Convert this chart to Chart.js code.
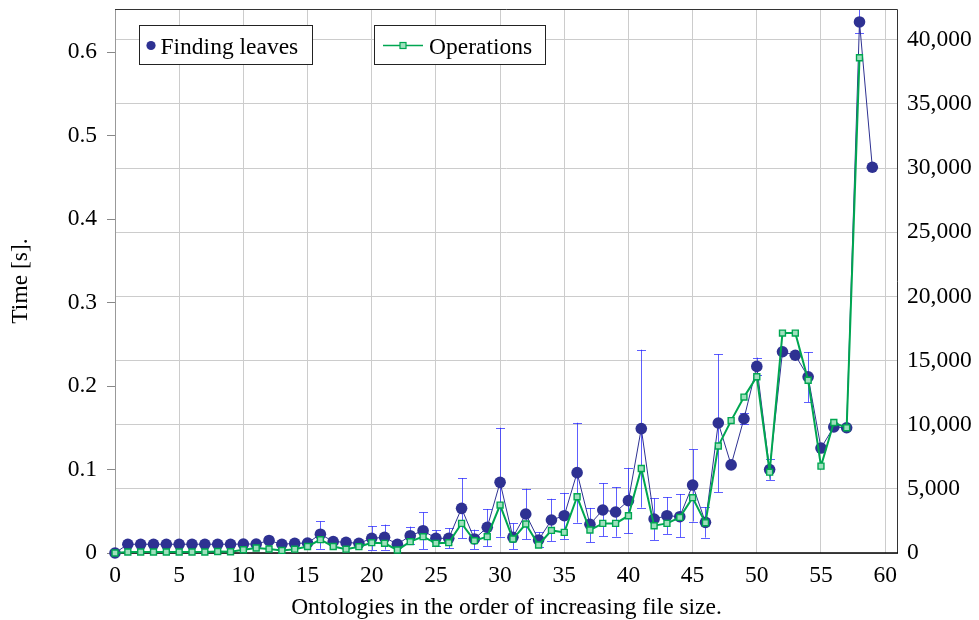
<!DOCTYPE html>
<html>
<head>
<meta charset="utf-8">
<script src="https://cdn.jsdelivr.net/npm/chart.js@4.4.0/dist/chart.umd.min.js"></script>
<style>
  html, body { margin: 0; padding: 0; background: #ffffff; }
  #wrap { width: 979px; height: 620px; }
</style>
</head>
<body>
<div id="wrap"><canvas id="c" width="979" height="620"></canvas></div>
<script>
// Axis ticks
const xTicks = [0, 5, 10, 15, 20, 25, 30, 35, 40, 45, 50, 55, 60];
const timeTicks = [0, 0.1, 0.2, 0.3, 0.4, 0.5, 0.6];
const opTicks = [0, 5000, 10000, 15000, 20000, 25000, 30000, 35000, 40000];

// Finding leaves: mean time [s] per ontology, with error-bar bounds (null = bar hidden under marker)
const leafIdx = [0, 1, 2, 3, 4, 5, 6, 7, 8, 9, 10, 11, 12, 13, 14, 15, 16, 17, 18, 19,
  20, 21, 22, 23, 24, 25, 26, 27, 28, 29, 30, 31, 32, 33, 34, 35, 36, 37, 38, 39,
  40, 41, 42, 43, 44, 45, 46, 47, 48, 49, 50, 51, 52, 53, 54, 55, 56, 57, 58, 59];
const leafTime = [0.0, 0.0105, 0.0105, 0.0105, 0.0105, 0.0105, 0.0105, 0.0105, 0.0105, 0.0105,
  0.0107, 0.0107, 0.015, 0.0105, 0.0115, 0.012, 0.0225, 0.0138, 0.0127, 0.0116,
  0.0176, 0.0188, 0.0104, 0.0207, 0.0267, 0.0176, 0.0176, 0.0535, 0.0168, 0.0308,
  0.0846, 0.0188, 0.0467, 0.0156, 0.0395, 0.0447, 0.0962, 0.0343, 0.0515, 0.0491,
  0.0627, 0.149, 0.0407, 0.0447, 0.0435, 0.0814, 0.0367, 0.1557, 0.1055, 0.1608,
  0.2235, 0.0999, 0.241, 0.2368, 0.211, 0.1257, 0.151, 0.150, 0.636, 0.462];
const leafLow = [null, null, null, null, null, null, null, null, null, null,
  null, null, null, null, null, null, 0.005, null, null, null,
  0.0036, 0.004, null, 0.011, 0.0048, 0.008, 0.0056, 0.0176, 0.0048, 0.0084,
  0.0196, 0.0048, 0.0164, 0.0068, 0.0144, 0.017, 0.0363, 0.0128, 0.020, 0.0196,
  0.0236, 0.0543, 0.0156, 0.0228, 0.0188, 0.0377, 0.0184, 0.073, null, 0.154,
  0.2127, 0.0875, null, null, 0.1806, null, null, null, 0.623, null];
const leafHigh = [null, null, null, null, null, null, null, null, null, null,
  null, null, null, null, null, null, 0.0378, null, null, null,
  0.032, 0.034, null, 0.0316, 0.0487, 0.027, 0.0296, 0.0898, 0.028, 0.0527,
  0.150, 0.0355, 0.077, 0.0248, 0.065, 0.072, 0.156, 0.054, 0.0835, 0.0787,
  0.102, 0.2435, 0.0655, 0.067, 0.0707, 0.124, 0.055, 0.238, null, 0.168,
  0.234, 0.112, null, null, 0.2406, null, null, null, 0.67, null];

// Operations per ontology (right axis)
const opIdx = [0, 1, 2, 3, 4, 5, 6, 7, 8, 9, 10, 11, 12, 13, 14, 15, 16, 17, 18, 19,
  20, 21, 22, 23, 24, 25, 26, 27, 28, 29, 30, 31, 32, 33, 34, 35, 36, 37, 38, 39,
  40, 41, 42, 43, 44, 45, 46, 47, 48, 49, 50, 51, 52, 53, 54, 55, 56, 57, 58];
const opCount = [0, 80, 80, 80, 80, 80, 80, 80, 120, 100,
  250, 390, 310, 200, 300, 510, 1037, 510, 300, 493,
  804, 752, 233, 882, 1271, 752, 804, 2308, 960, 1271,
  3735, 1089, 2257, 622, 1760, 1608, 4383, 1790, 2308, 2308,
  2905, 6588, 2127, 2308, 2775, 4310, 2350, 8340, 10320, 12151,
  13740, 6299, 17140, 17140, 13461, 6772, 10173, 9755, 38600];

const NAVY = '#2e3192';
const GREEN = '#00a651';
const GREEN_FILL = '#9fe0bd';
const ERR = 'rgba(40, 40, 255, 0.75)';
const GRID = '#cccccc';
const FONT = "'Liberation Serif', 'Times New Roman', serif";
const FS = 23.5;

Chart.defaults.font.family = FONT;
Chart.defaults.font.size = FS;
Chart.defaults.color = '#000000';

const errorBars = {
  id: 'errorBars',
  beforeDatasetsDraw(chart) {
    const { ctx, chartArea } = chart;
    const xs = chart.scales.x, ys = chart.scales.y;
    ctx.save();
    ctx.beginPath();
    ctx.rect(chartArea.left, chartArea.top, chartArea.right - chartArea.left, chartArea.bottom - chartArea.top);
    ctx.clip();
    ctx.strokeStyle = ERR;
    ctx.lineWidth = 1;
    for (let i = 0; i < leafIdx.length; i++) {
      if (leafLow[i] === null || leafHigh[i] === null) continue;
      const px = Math.round(xs.getPixelForValue(leafIdx[i])) + 0.5;
      const y1 = ys.getPixelForValue(leafLow[i]);
      const y2 = ys.getPixelForValue(leafHigh[i]);
      ctx.beginPath();
      ctx.moveTo(px, y1); ctx.lineTo(px, y2);
      ctx.moveTo(px - 4.5, Math.round(y1) + 0.5); ctx.lineTo(px + 4.5, Math.round(y1) + 0.5);
      ctx.moveTo(px - 4.5, Math.round(y2) + 0.5); ctx.lineTo(px + 4.5, Math.round(y2) + 0.5);
      ctx.stroke();
    }
    ctx.restore();
  }
};

const frame = {
  id: 'frame',
  beforeDatasetsDraw(chart) {
    const { ctx, chartArea: a } = chart;
    ctx.save();
    ctx.lineWidth = 1;
    ctx.strokeStyle = '#999999';
    ctx.beginPath();
    ctx.moveTo(a.left + 0.5, a.top); ctx.lineTo(a.left + 0.5, a.bottom);
    ctx.stroke();
    ctx.strokeStyle = '#333333';
    ctx.beginPath();
    ctx.moveTo(a.left, a.top + 0.5); ctx.lineTo(a.right - 0.5, a.top + 0.5); ctx.lineTo(a.right - 0.5, a.bottom);
    ctx.stroke();
    ctx.strokeStyle = '#000000';
    ctx.lineWidth = 1.6;
    ctx.beginPath();
    ctx.moveTo(a.left, a.bottom); ctx.lineTo(a.right, a.bottom);
    ctx.stroke();
    ctx.restore();
  }
};

const legendBoxes = {
  id: 'legendBoxes',
  afterDraw(chart) {
    const { ctx } = chart;
    const dsLeaf = chart.data.datasets[0];
    const dsOp = chart.data.datasets[1];
    ctx.save();
    ctx.font = FS + 'px ' + FONT;
    ctx.textBaseline = 'alphabetic';
    // box 1
    ctx.fillStyle = '#ffffff';
    ctx.fillRect(139.5, 25.5, 173, 39);
    ctx.strokeStyle = '#222222';
    ctx.lineWidth = 1;
    ctx.strokeRect(139.5, 25.5, 173, 39);
    ctx.fillStyle = dsLeaf.pointBackgroundColor;
    ctx.beginPath();
    ctx.arc(151, 45.5, 4.6, 0, Math.PI * 2);
    ctx.fill();
    ctx.fillStyle = '#000';
    ctx.fillText(dsLeaf.label, 160.5, 53.5);
    // box 2
    ctx.fillStyle = '#ffffff';
    ctx.fillRect(374.5, 25.5, 171, 39);
    ctx.strokeRect(374.5, 25.5, 171, 39);
    ctx.strokeStyle = dsOp.borderColor;
    ctx.lineWidth = 1.6;
    ctx.beginPath();
    ctx.moveTo(383, 45.5); ctx.lineTo(423, 45.5);
    ctx.stroke();
    ctx.fillStyle = dsOp.pointBackgroundColor;
    ctx.lineWidth = 1.2;
    ctx.fillRect(400, 42.5, 6, 6);
    ctx.strokeRect(400, 42.5, 6, 6);
    ctx.fillStyle = '#000';
    ctx.fillText(dsOp.label, 429, 53.5);
    ctx.restore();
  }
};

// Vertical axes: no extra label padding, so the plot frame reaches the top margin
const noVPad = s => { s.paddingTop = 0; s.paddingBottom = 0; };

new Chart(document.getElementById('c'), {
  type: 'line',
  data: {
    datasets: [
      {
        label: 'Finding leaves',
        data: leafIdx.map((x, i) => ({ x: x, y: leafTime[i] })),
        yAxisID: 'y',
        borderColor: NAVY,
        borderWidth: 1,
        backgroundColor: NAVY,
        pointBackgroundColor: NAVY,
        pointBorderColor: NAVY,
        pointRadius: 5.8,
        pointBorderWidth: 0,
        tension: 0,
        clip: false,
        order: 1
      },
      {
        label: 'Operations',
        data: opIdx.map((x, i) => ({ x: x, y: opCount[i] })),
        yAxisID: 'y2',
        borderColor: GREEN,
        borderWidth: 2,
        backgroundColor: GREEN_FILL,
        pointBackgroundColor: GREEN_FILL,
        pointBorderColor: GREEN,
        pointStyle: 'rect',
        pointRadius: 4.2,
        pointBorderWidth: 1.4,
        tension: 0,
        clip: false,
        order: 0
      }
    ]
  },
  options: {
    responsive: false,
    devicePixelRatio: 1,
    animation: false,
    layout: { padding: { top: 9, left: 0, right: 0, bottom: 0 } },
    plugins: { legend: { display: false }, tooltip: { enabled: false } },
    scales: {
      x: {
        type: 'linear',
        position: 'bottom',
        min: 0,
        max: 61,
        afterBuildTicks: s => { s.ticks = xTicks.map(v => ({ value: v })); },
        afterFit: s => { s.height = 67; s.paddingLeft = 0; s.paddingRight = 0; },
        grid: { color: GRID, lineWidth: 1, drawTicks: false },
        border: { display: false },
        ticks: { padding: 9, maxRotation: 0, autoSkip: false, color: '#000' },
        title: {
          display: true,
          text: 'Ontologies in the order of increasing file size.',
          color: '#000',
          padding: { top: 0, bottom: -2 }
        }
      },
      y: {
        position: 'left',
        min: 0,
        max: 0.6515,
        afterBuildTicks: s => { s.ticks = timeTicks.map(v => ({ value: v })); },
        afterFit: s => { s.width = 115; noVPad(s); },
        grid: { drawOnChartArea: false, drawTicks: true, tickLength: 8, color: '#888888' },
        border: { display: false },
        ticks: { padding: 10, color: '#000', callback: v => (v === 0 ? '0' : v.toFixed(1)) },
        title: { display: true, text: 'Time [s].', color: '#000', padding: { top: 7, bottom: 0 } }
      },
      y2: {
        position: 'right',
        min: 0,
        max: 42400,
        afterBuildTicks: s => { s.ticks = opTicks.map(v => ({ value: v })); },
        afterFit: s => { s.width = 81; noVPad(s); },
        grid: { color: GRID, lineWidth: 1, drawTicks: false },
        border: { display: false },
        ticks: { padding: 9, color: '#000', callback: v => v.toLocaleString('en-US') }
      }
    }
  },
  plugins: [errorBars, frame, legendBoxes]
});
</script>
</body>
</html>
